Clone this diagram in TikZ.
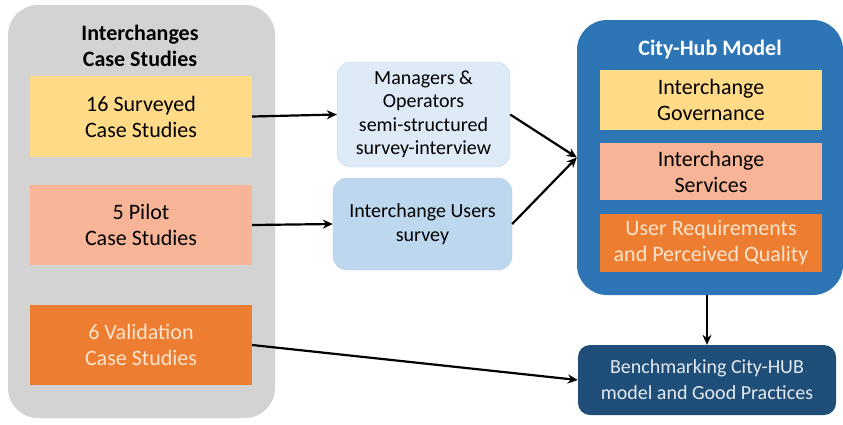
\documentclass[tikz,border=0pt]{standalone}
\usepackage{fontspec}
\setmainfont{Carlito}
\usetikzlibrary{arrows.meta,positioning}

\definecolor{panelgray}{RGB}{211,211,211}
\definecolor{survyellow}{RGB}{255,218,135}
\definecolor{pilotsalmon}{RGB}{248,180,150}
\definecolor{validorange}{RGB}{237,125,49}
\definecolor{paletext}{RGB}{253,228,205}
\definecolor{mgrblue}{RGB}{222,234,246}
\definecolor{userblue}{RGB}{189,215,238}
\definecolor{hubblue}{RGB}{46,117,182}
\definecolor{benchblue}{RGB}{31,78,121}

\tikzset{
  casebox/.style={rectangle,minimum width=222pt,align=center,
    font=\fontsize{22}{26}\selectfont},
  surveybox/.style={rectangle,rounded corners=14pt,align=center,
    font=\fontsize{20}{23.5}\selectfont},
  flow/.style={-{Stealth[length=10pt,width=9pt]},line width=2.2pt}
}

\begin{document}
\begin{tikzpicture}[x=1pt,y=-1pt]
  \useasboundingbox (0,0) rectangle (843,424);

  % left panel
  \node[rectangle,rounded corners=30pt,fill=panelgray,minimum width=267pt,
        minimum height=413pt] (cases) at (141.5,211.5) {};
  \node[align=center,font=\fontsize{22}{26}\selectfont\bfseries]
        (casestitle) at (140,46) {Interchanges\\Case Studies};
  \node[casebox,fill=survyellow,minimum height=81pt] (surveyed) at (141,116.5)
        {16 Surveyed\\Case Studies};
  \node[casebox,fill=pilotsalmon,minimum height=80pt] (pilot) at (141,225)
        {5 Pilot\\Case Studies};
  \node[casebox,fill=validorange,text=paletext,minimum height=80pt]
        (validation) at (141,345) {6 Validation\\Case Studies};

  % surveys
  \node[surveybox,fill=mgrblue,draw=userblue,minimum width=173pt,
        minimum height=105pt] (managers) at (423.5,114.5)
        {Managers \&\\Operators\\semi-structured\\survey-interview};
  \node[surveybox,fill=userblue,draw=userblue!80!black!20!userblue,
        minimum width=179pt,minimum height=92pt] (users) at (422.5,224)
        {Interchange Users\\survey};

  % model
  \node[rectangle,rounded corners=30pt,fill=hubblue,minimum width=266pt,
        minimum height=275pt] (hub) at (710,157.5) {};
  \node[font=\fontsize{22}{26}\selectfont\bfseries,text=white]
        (hubtitle) at (710,50) {City-Hub Model};
  \node[casebox,fill=survyellow,minimum height=60pt] (governance) at (711,100)
        {Interchange\\Governance};
  \node[casebox,fill=pilotsalmon,minimum height=57pt] (services) at (711,171.5)
        {Interchange\\Services};
  \node[casebox,fill=validorange,text=paletext,minimum height=58pt]
        (requirements) at (711,243) {User Requirements\\and Perceived Quality};

  \node[rectangle,rounded corners=12pt,fill=benchblue,text=white!88!benchblue,
        minimum width=258pt,minimum height=70pt,align=center,
        font=\fontsize{20}{26}\selectfont] (bench) at (707,380)
        {Benchmarking City-HUB\\model and Good Practices};

  \path[flow] (surveyed.east) edge (managers.west)
              (pilot.east) edge (users.west)
              (managers.east) edge (hub.west)
              (users.east) edge (hub.west)
              (hub.south -| bench.north) edge (bench.north)
              (validation.east) edge (bench.west);
\end{tikzpicture}
\end{document}
